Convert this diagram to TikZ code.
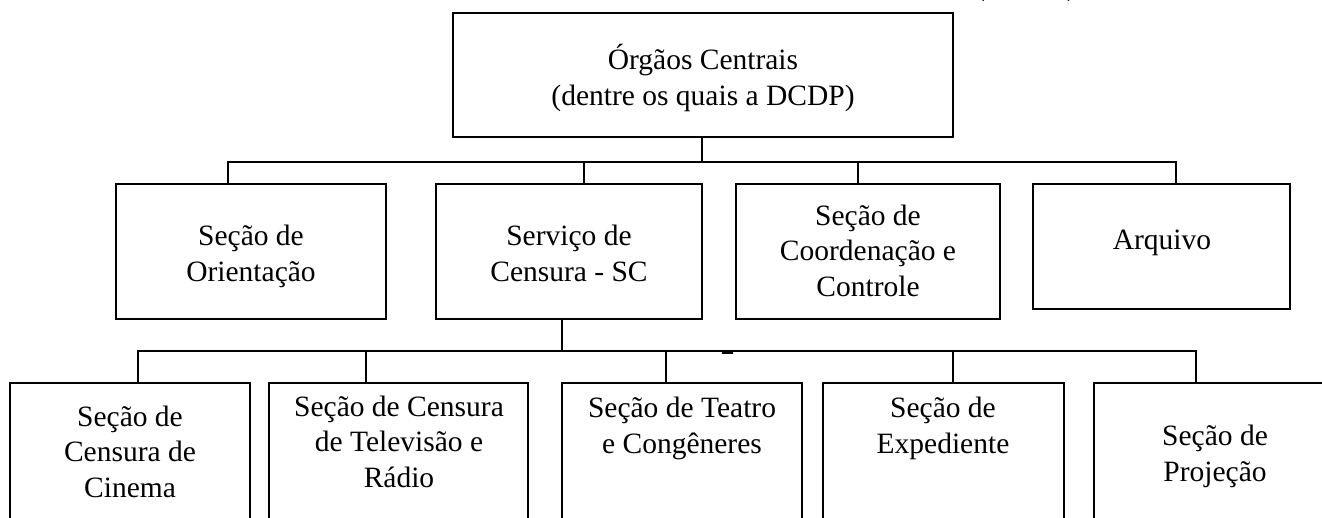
\documentclass[tikz,border=0pt]{standalone}
\usepackage{fontspec}
\setmainfont{Liberation Serif}
\usetikzlibrary{calc}
\tikzset{
  box/.style={draw, line width=1.5pt, inner sep=0pt, outer sep=0pt, anchor=north west},
  lbl/.style={font=\fontsize{29.5}{35.5}\selectfont, align=center, inner sep=0pt, anchor=base},
  conn/.style={line width=1.5pt},
}
\begin{document}
\begin{tikzpicture}[x=1pt,y=-1pt]
\useasboundingbox (0,0) rectangle (1322,517);
\clip (0,0) rectangle (1322,517);
% top fragment
\node[lbl] (cap) at (1026,-5) {(\hspace{82pt})};
% boxes
\node[box, minimum width=500pt, minimum height=124pt] (top) at (453,13) {};
\node[box, minimum width=270pt, minimum height=135pt] (o)  at (116,184) {};
\node[box, minimum width=266pt, minimum height=135pt] (sc) at (436,184) {};
\node[box, minimum width=264pt, minimum height=135pt] (co) at (736,184) {};
\node[box, minimum width=257pt, minimum height=125pt] (ar) at (1033,184) {};
\node[box, minimum width=240pt, minimum height=160pt] (b1) at (10,383) {};
\node[box, minimum width=259pt, minimum height=160pt] (b2) at (269,383) {};
\node[box, minimum width=240pt, minimum height=160pt] (b3) at (562,383) {};
\node[box, minimum width=241pt, minimum height=160pt] (b4) at (823,383) {};
\node[box, minimum width=242pt, minimum height=160pt] (b5) at (1094,383) {};
% labels (anchor = baseline of last line)
\node[lbl] (topt) at (703,105) {Órgãos Centrais\\(dentre os quais a DCDP)};
\node[lbl] (ot) at (251,281) {Seção de\\Orientação};
\node[lbl] (sct) at (569,281) {Serviço de\\Censura - SC};
\node[lbl] (cot) at (868,296) {Seção de\\Coordenação e\\Controle};
\node[lbl] (art) at (1162,249) {Arquivo};
\node[lbl] (b1t) at (130,497) {Seção de\\Censura de\\Cinema};
\node[lbl] (b2t) at (399,487) {Seção de Censura\\de Televisão e\\Rádio};
\node[lbl] (b3t) at (682,453) {Seção de Teatro\\e Congêneres};
\node[lbl] (b4t) at (943,453) {Seção de\\Expediente};
\node[lbl] (b5t) at (1215,481) {Seção de\\Projeção};
% bus coordinates
\coordinate (bus1) at (702,162);
\coordinate (bus2) at (562,351);
% level 1 connectors
\draw[conn] (top.south -| bus1) -- (bus1);
\draw[conn] ([xshift=112pt]o.north west) |- (bus1) -| ([xshift=143pt]ar.north west);
\draw[conn] ([xshift=148pt]sc.north west) -- ([xshift=148pt]sc.north west |- bus1);
\draw[conn] ([xshift=122pt]co.north west) -- ([xshift=122pt]co.north west |- bus1);
% level 2 connectors
\draw[conn] ([xshift=126pt]sc.south west) -- (bus2);
\draw[conn] ([xshift=128pt]b1.north west) |- (bus2) -| ([xshift=102pt]b5.north west);
\draw[conn] ([xshift=97pt]b2.north west) -- ([xshift=97pt]b2.north west |- bus2);
\draw[conn] ([xshift=104pt]b3.north west) -- ([xshift=104pt]b3.north west |- bus2);
\draw[conn] ([xshift=130pt]b4.north west) -- ([xshift=130pt]b4.north west |- bus2);
% small mark under the lower bus
\draw[line width=2pt] (722,353) -- (733,353);
\end{tikzpicture}
\end{document}
